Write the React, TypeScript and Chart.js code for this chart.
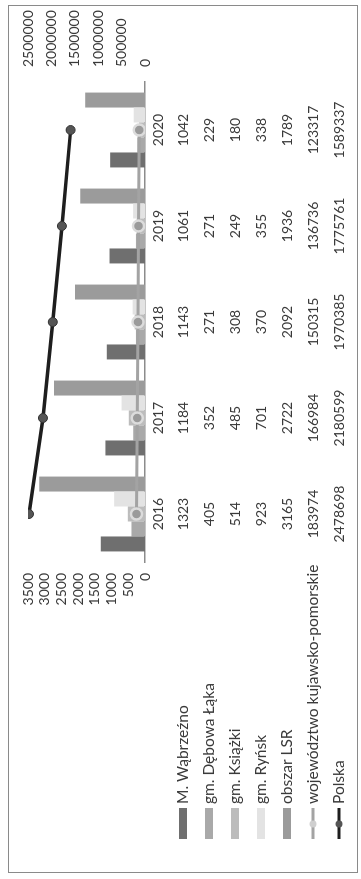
import React, { useEffect, useRef } from "react";
import { Chart, registerables } from "chart.js";

Chart.register(...registerables);

const years = ["2016", "2017", "2018", "2019", "2020"];
const seriesNames = [
  "M. Wąbrzeźno",
  "gm. Dębowa Łąka",
  "gm. Książki",
  "gm. Ryńsk",
  "obszar LSR",
  "województwo kujawsko-pomorskie",
  "Polska",
];
const wabrzezno = [1323, 1184, 1143, 1061, 1042];
const debowaLaka = [405, 352, 271, 271, 229];
const ksiazki = [514, 485, 308, 249, 180];
const rynsk = [923, 701, 370, 355, 338];
const obszarLSR = [3165, 2722, 2092, 1936, 1789];
const wojewodztwo = [183974, 166984, 150315, 136736, 123317];
const polska = [2478698, 2180599, 1970385, 1775761, 1589337];
const leftAxis = { min: 0, max: 3500, step: 500 };
const rightAxis = { min: 0, max: 2500000, step: 500000 };

const W = 879;
const H = 361;
const FONT = "Lato, 'Open Sans', sans-serif";
const TEXT = "#3a3a3a";

const barColors = ["#6f6f6f", "#a9a9a9", "#bcbcbc", "#e3e3e3", "#9b9b9b"];

const tablePlugin = {
  id: "tablePlugin",
  afterDraw(chart: any) {
    const ctx = chart.ctx as CanvasRenderingContext2D;
    const xs = chart.scales.x;
    const allRows = [wabrzezno, debowaLaka, ksiazki, rynsk, obszarLSR, wojewodztwo, polska];
    ctx.save();
    ctx.fillStyle = TEXT;
    ctx.font = `14px ${FONT}`;
    ctx.textBaseline = "middle";
    ctx.textAlign = "center";
    const yearY = 158;
    const rowY0 = 183;
    const rowH = 26;
    years.forEach((y, i) => {
      ctx.fillText(y, xs.getPixelForValue(i), yearY);
    });
    allRows.forEach((row, r) => {
      row.forEach((v, i) => {
        ctx.fillText(String(v), xs.getPixelForValue(i), rowY0 + r * rowH);
      });
    });
    // legend column
    ctx.textAlign = "left";
    ctx.font = `15.5px ${FONT}`;
    seriesNames.forEach((name, r) => {
      const cy = rowY0 + r * rowH;
      if (r < 5) {
        ctx.fillStyle = barColors[r];
        ctx.fillRect(40, cy - 4, 31, 8);
      } else {
        const col = r === 5 ? "#a3a3a3" : "#1e1e1e";
        ctx.strokeStyle = col;
        ctx.lineWidth = 3;
        ctx.beginPath();
        ctx.moveTo(40, cy);
        ctx.lineTo(71, cy);
        ctx.stroke();
        ctx.fillStyle = r === 5 ? "#cfcfcf" : "#555";
        ctx.beginPath();
        ctx.arc(55, cy, 3.5, 0, Math.PI * 2);
        ctx.fill();
      }
      ctx.fillStyle = TEXT;
      ctx.fillText(name, 75, cy);
    });
    // frame
    ctx.strokeStyle = "#8a8a8a";
    ctx.lineWidth = 1;
    ctx.strokeRect(6.5, 8.5, 867, 349);
    ctx.restore();
  },
};

export default function App() {
  const ref = useRef<HTMLCanvasElement | null>(null);
  useEffect(() => {
    document.body.style.margin = "0";
    document.body.style.background = "#fff";
    const barData = [wabrzezno, debowaLaka, ksiazki, rynsk, obszarLSR];
    const datasets: any[] = barData.map((d, i) => ({
      type: "bar",
      label: seriesNames[i],
      data: d,
      backgroundColor: barColors[i],
      yAxisID: "y",
      order: 3,
      categoryPercentage: 0.78,
      barPercentage: 1,
    }));
    datasets.push({
      type: "line",
      label: seriesNames[5],
      data: wojewodztwo,
      yAxisID: "y1",
      borderColor: "#a3a3a3",
      borderWidth: 3,
      pointRadius: 5.5,
      pointBackgroundColor: "#9a9a9a",
      pointBorderColor: "#dcdcdc",
      pointBorderWidth: 2.5,
      order: 1,
    });
    datasets.push({
      type: "line",
      label: seriesNames[6],
      data: polska,
      yAxisID: "y1",
      borderColor: "#1e1e1e",
      borderWidth: 3.5,
      pointRadius: 4.5,
      pointBackgroundColor: "#555555",
      pointBorderColor: "#333333",
      pointBorderWidth: 1,
      order: 0,
    });
    const chart = new Chart(ref.current!, {
      type: "bar",
      data: { labels: years, datasets },
      options: {
        responsive: false,
        animation: false,
        devicePixelRatio: 1,
        layout: { padding: { top: 28, left: 0, right: 0, bottom: 0 } },
        plugins: { legend: { display: false }, tooltip: { enabled: false }, title: { display: false } },
        scales: {
          x: {
            offset: true,
            grid: { display: false },
            border: { display: true, color: "#8c8c8c", width: 1.5 },
            ticks: { display: false },
            afterFit: (s: any) => {
              s.height = H - 145;
            },
          },
          y: {
            position: "left",
            min: leftAxis.min,
            max: leftAxis.max,
            grid: { display: false, drawTicks: false },
            border: { display: false },
            ticks: {
              stepSize: leftAxis.step,
              autoSkip: false,
              padding: 11,
              color: TEXT,
              font: { family: FONT, size: 14 },
              callback: (v: any) => String(v),
            },
            afterFit: (s: any) => {
              s.width = 317;
            },
          },
          y1: {
            position: "right",
            min: rightAxis.min,
            max: rightAxis.max,
            grid: { display: false, drawTicks: false },
            border: { display: false },
            ticks: {
              stepSize: rightAxis.step,
              autoSkip: false,
              padding: 15,
              color: TEXT,
              font: { family: FONT, size: 14 },
              callback: (v: any) => String(v),
            },
            afterFit: (s: any) => {
              s.width = W - 797;
            },
          },
        },
      },
      plugins: [tablePlugin],
    });
    return () => chart.destroy();
  }, []);
  return (
    <div
      style={{
        position: "fixed",
        left: 0,
        top: 0,
        width: W,
        height: H,
        background: "#fff",
        transformOrigin: "0 0",
        transform: `translateY(${W}px) rotate(-90deg)`,
      }}
    >
      <canvas ref={ref} width={W} height={H} style={{ width: W, height: H, display: "block" }} />
    </div>
  );
}
